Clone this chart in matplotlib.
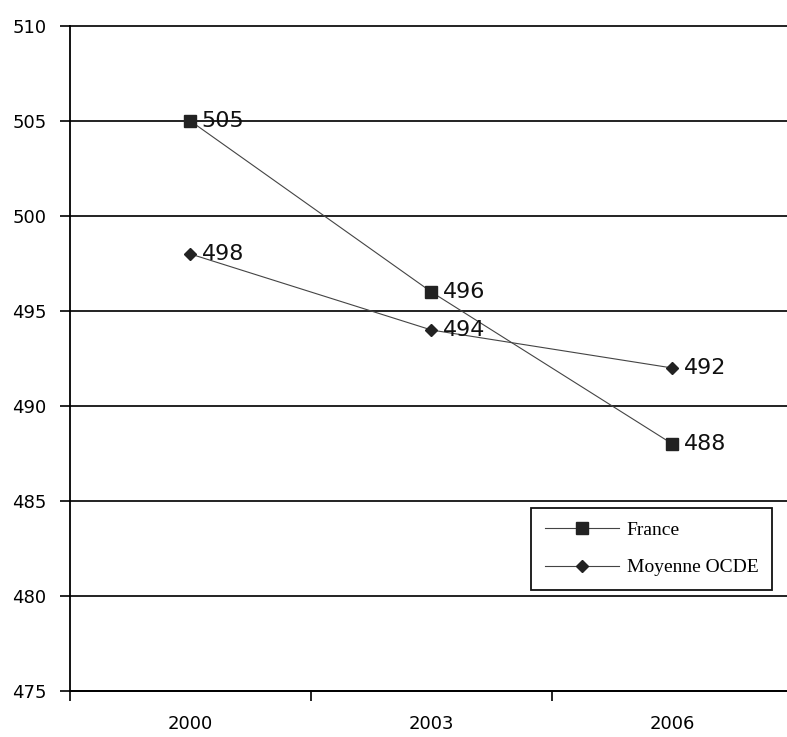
import matplotlib
matplotlib.use("Agg")
from matplotlib import pyplot as plt

years = ["2000", "2003", "2006"]
france = [505, 496, 488]
ocde = [498, 494, 492]

fig = plt.figure(figsize=(7.87, 7.37), dpi=100)
ax = fig.add_axes([0.0889, 0.0624, 0.9187, 0.9023])

x = range(len(years))
ax.plot(x, france, color="#444444", lw=0.8, marker="s", ms=8,
        mfc="#222222", mec="#222222", label="France", zorder=3)
ax.plot(x, ocde, color="#444444", lw=0.8, marker="D", ms=6,
        mfc="#222222", mec="#222222", label="Moyenne OCDE", zorder=3)

for xi, v in zip(x, france):
    ax.annotate(str(v), (xi, v), xytext=(8, 0), textcoords="offset points",
                va="center", ha="left", fontsize=16, color="#111111")
for xi, v in zip(x, ocde):
    ax.annotate(str(v), (xi, v), xytext=(8, 0), textcoords="offset points",
                va="center", ha="left", fontsize=16, color="#111111")

ax.set_xlim(-0.5, 2.5)
ax.set_ylim(475, 510)
ax.set_yticks(range(475, 511, 5))
ax.yaxis.grid(True, color="#111111", lw=1.3)
for gl in ax.get_ygridlines():
    gl.set_clip_on(False)
ax.set_axisbelow(True)

# category labels sit between the boundary ticks
ax.set_xticks([-0.5, 0.5, 1.5], minor=False)
ax.set_xticklabels([])
ax.set_xticks(list(x), minor=True)
ax.set_xticklabels(years, minor=True)
ax.tick_params(axis="x", which="major", length=7, width=1.2, direction="out")
ax.tick_params(axis="x", which="minor", length=0, pad=17, labelsize=13)
ax.tick_params(axis="y", length=7, width=1.2, labelsize=13, pad=10)

for side in ["top", "right"]:
    ax.spines[side].set_visible(False)
ax.spines["left"].set_linewidth(1.3)
ax.spines["bottom"].set_linewidth(1.3)

leg = ax.legend(loc="lower right", bbox_to_anchor=(0.971, 0.152),
                prop={"family": "Liberation Serif", "size": 14},
                fancybox=False, edgecolor="#111111", framealpha=1,
                handlelength=3.8, handletextpad=0.4, borderpad=0.7,
                labelspacing=1.0, borderaxespad=0)
leg.get_frame().set_linewidth(1.3)

fig.savefig("out.png", dpi=100)
